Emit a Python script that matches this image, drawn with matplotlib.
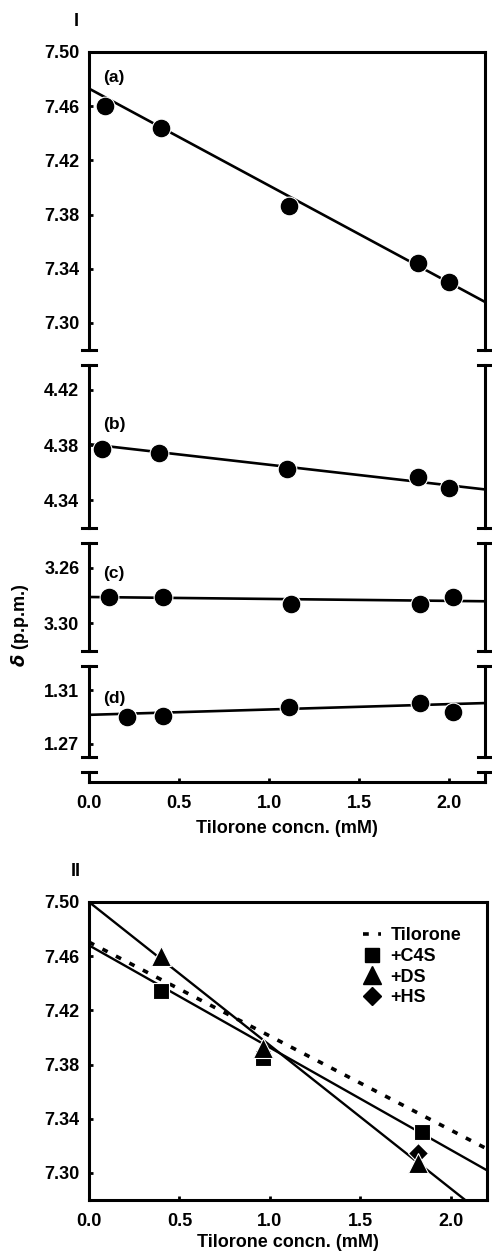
import numpy as np
import matplotlib
matplotlib.use("Agg")
import matplotlib.pyplot as plt
from matplotlib.lines import Line2D

plt.rcParams['font.family'] = ['Liberation Sans', 'DejaVu Sans']
plt.rcParams['font.weight'] = 'bold'
plt.rcParams['axes.labelweight'] = 'bold'
plt.rcParams['mathtext.fontset'] = 'dejavusans'

# ---- panel I data (tilorone alone) ----
conc_a = [0.09, 0.40, 1.11, 1.83, 2.00]
shift_a = [7.460, 7.444, 7.386, 7.344, 7.330]
conc_b = [0.07, 0.39, 1.10, 1.83, 2.00]
shift_b = [4.377, 4.374, 4.363, 4.357, 4.349]
conc_c = [0.11, 0.41, 1.12, 1.84, 2.02]
shift_c = [3.281, 3.281, 3.286, 3.286, 3.281]
conc_d = [0.21, 0.41, 1.11, 1.84, 2.02]
shift_d = [1.290, 1.291, 1.297, 1.300, 1.294]
# fitted lines: (intercept, slope)
fit_a = (7.473, -0.0716)
fit_b = (4.3807, -0.0149)
fit_c = (3.281, 0.0014)
fit_d = (1.2915, 0.0040)

# ---- panel II data (with glycosaminoglycans) ----
conc_c4s = [0.40, 0.96, 1.84]
shift_c4s = [7.434, 7.385, 7.330]
conc_ds = [0.40, 0.96, 1.82]
shift_ds = [7.460, 7.392, 7.307]
conc_hs = [1.82]
shift_hs = [7.315]
fit_tilorone = (7.4704, -0.0694)
fit_c4s = (7.468, -0.0755)
fit_ds = (7.500, -0.1058)

xticks = [0.0, 0.5, 1.0, 1.5, 2.0]
xlim = (0, 2.2)
W, H = 492, 1251
FS = 13

fig = plt.figure(figsize=(W / 100, H / 100), dpi=100)


def rect(x0, x1, ytop, ybot):
    return [x0 / W, 1 - ybot / H, (x1 - x0) / W, (ybot - ytop) / H]


def style(ax, top=False, bottom=False, caps_top=True, caps_bot=True):
    for s in ax.spines.values():
        s.set_linewidth(2.2)
    ax.spines['top'].set_visible(top)
    ax.spines['bottom'].set_visible(bottom)
    ax.set_xlim(*xlim)
    ax.tick_params(axis='y', direction='in', length=3, width=2, pad=7,
                   labelsize=FS, right=False)
    ax.tick_params(axis='x', direction='in', length=3, width=2, pad=9,
                   labelsize=FS, top=False)
    if not bottom:
        ax.tick_params(axis='x', bottom=False, labelbottom=False)
    d = 0.018
    for x in (0, 1):
        for y, on in ((0, caps_bot), (1, caps_top)):
            if on:
                ax.add_line(Line2D([x - d, x + d], [y, y], transform=ax.transAxes,
                                   color='black', lw=2.2, clip_on=False))


xx = np.array(xlim)
mk = dict(color='black', markersize=13.5, markeredgecolor='white', markeredgewidth=0.8,
          linestyle='none', zorder=3)

# (a)
ax = fig.add_axes(rect(89, 485, 52, 350))
style(ax, top=True, caps_top=False)
ax.set_ylim(7.28, 7.50)
ax.set_yticks([7.30, 7.34, 7.38, 7.42, 7.46, 7.50])
ax.yaxis.set_major_formatter(matplotlib.ticker.FormatStrFormatter('%.2f'))
ax.plot(xx, fit_a[0] + fit_a[1] * xx, color='black', lw=1.9)
ax.plot(conc_a, shift_a, marker='o', **mk)
ax.text(0.08, 7.481, '(a)', fontsize=12.5, ha='left', va='center')

# (b)
ax = fig.add_axes(rect(89, 485, 365, 528))
style(ax)
ax.set_ylim(4.32, 4.438)
ax.set_yticks([4.34, 4.38, 4.42])
ax.plot(xx, fit_b[0] + fit_b[1] * xx, color='black', lw=1.9)
ax.plot(conc_b, shift_b, marker='o', **mk)
ax.text(0.08, 4.395, '(b)', fontsize=12.5, ha='left', va='center')

# (c)  axis labels run downwards as in the original
ax = fig.add_axes(rect(89, 485, 543, 651))
style(ax)
ax.set_ylim(3.32, 3.242)
ax.set_yticks([3.26, 3.30])
ax.plot(xx, fit_c[0] + fit_c[1] * xx, color='black', lw=1.9)
ax.plot(conc_c, shift_c, marker='o', **mk)
ax.text(0.08, 3.264, '(c)', fontsize=12.5, ha='left', va='center')

# (d)
ax = fig.add_axes(rect(89, 485, 666, 757))
style(ax)
ax.set_ylim(1.260, 1.328)
ax.set_yticks([1.27, 1.31])
ax.plot(xx, fit_d[0] + fit_d[1] * xx, color='black', lw=1.9)
ax.plot(conc_d, shift_d, marker='o', **mk)
ax.text(0.08, 1.3035, '(d)', fontsize=12.5, ha='left', va='center')

# bottom strip carrying the x axis
ax = fig.add_axes(rect(89, 485, 772, 782))
style(ax, bottom=True, caps_bot=False)
ax.set_yticks([])
ax.set_xticks(xticks)
ax.set_xticklabels(['%.1f' % t for t in xticks])
ax.set_xlabel('Tilorone concn. (mM)', fontsize=FS, labelpad=6)

fig.text(76 / W, 1 - 21 / H, 'I', fontsize=13, ha='center', va='center')
fig.text(20 / W, 1 - 625 / H, r'$\delta$ (p.p.m.)', fontsize=FS, rotation=90,
         ha='center', va='center')

# ---- panel II ----
ax = fig.add_axes(rect(89, 487, 902, 1200))
style(ax, top=True, bottom=True, caps_top=False, caps_bot=False)
ax.set_ylim(7.28, 7.50)
ax.set_yticks([7.30, 7.34, 7.38, 7.42, 7.46, 7.50])
ax.yaxis.set_major_formatter(matplotlib.ticker.FormatStrFormatter('%.2f'))
ax.set_xticks(xticks)
ax.set_xticklabels(['%.1f' % t for t in xticks])
ax.plot(xx, fit_tilorone[0] + fit_tilorone[1] * xx, color='black', lw=2.6,
        dashes=(1.6, 2.6), zorder=2)
ax.plot(xx, fit_c4s[0] + fit_c4s[1] * xx, color='black', lw=1.7, zorder=2)
ax.plot(xx, fit_ds[0] + fit_ds[1] * xx, color='black', lw=1.7, zorder=2)
mk2 = dict(color='black', markeredgecolor='white', markeredgewidth=0.8,
           linestyle='none', zorder=3)
ax.plot(conc_c4s, shift_c4s, marker='s', markersize=12, **mk2)
ax.plot(conc_hs, shift_hs, marker='D', markersize=10, **mk2)
ax.plot(conc_ds, shift_ds, marker='^', markersize=14, **mk2)
ax.set_xlabel('Tilorone concn. (mM)', fontsize=FS, labelpad=3)

handles = [Line2D([], [], color='black', lw=2.6, dashes=(1.6, 2.6)),
           Line2D([], [], color='black', marker='s', markersize=10.5, linestyle='none'),
           Line2D([], [], color='black', marker='^', markersize=13, linestyle='none'),
           Line2D([], [], color='black', marker='D', markersize=9.5, linestyle='none')]
ax.legend(handles, ['Tilorone', '+C4S', '+DS', '+HS'], loc='upper right',
          bbox_to_anchor=(0.935, 0.915), frameon=False, fontsize=13,
          handlelength=1.0, handletextpad=0.5, labelspacing=0.2, borderpad=0,
          borderaxespad=0)

fig.text(76 / W, 1 - 872 / H, 'II', fontsize=13, ha='center', va='center')

fig.savefig('out.png', dpi=100)
